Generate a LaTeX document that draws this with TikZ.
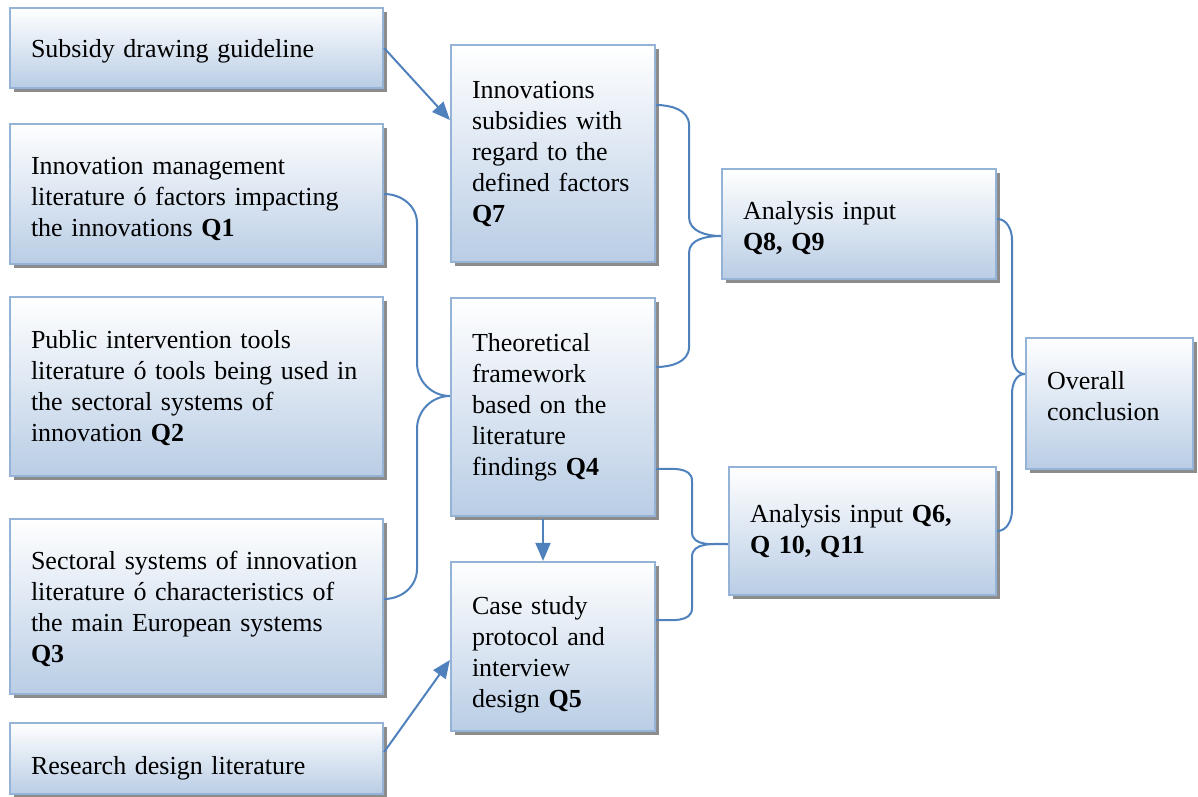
\documentclass[tikz,border=0pt]{standalone}
\usepackage{fontspec}
\setmainfont{Liberation Serif}
\usepackage{tikz}
\usetikzlibrary{arrows.meta, shadows, calc}
\definecolor{boxline}{HTML}{95B3D7}
\definecolor{boxblue}{HTML}{B9CDE5}
\definecolor{linkblue}{HTML}{4F81BD}
\definecolor{shadowgray}{HTML}{8C8C8C}

\tikzset{
  box/.style={rectangle, draw=boxline, line width=2.2pt, top color=white, bottom color=boxblue,
    drop shadow={shadow xshift=4pt, shadow yshift=-4pt, fill=shadowgray, opacity=1},
    align=left, inner xsep=21pt, inner ysep=0pt, font=\fontsize{26}{31}\selectfont},
  link/.style={linkblue, line width=2pt},
  arr/.style={link, -{Triangle[length=18pt, width=15pt]}}
}

\begin{document}
\begin{tikzpicture}[x=1pt, y=-1pt]
    \useasboundingbox (0,0) rectangle (1198,796);
    % left column
    \node[box, text width=331pt, minimum height=80pt] (sub) at (196.5,48) {\rule{0pt}{24pt}Subsidy drawing guideline};
    \node[box, text width=331pt, minimum height=140pt] (innov) at (196.5,194) {\rule{0pt}{28pt}Innovation management\\literature ó factors impacting\\the innovations \textbf{Q1}};
    \node[box, text width=331pt, minimum height=179pt] (pub) at (196.5,386.5) {\rule{0pt}{22pt}Public intervention tools\\literature ó tools being used in\\the sectoral systems of\\innovation \textbf{Q2}};
    \node[box, text width=331pt, minimum height=175pt] (sect) at (196.5,606.5) {\rule{0pt}{24pt}Sectoral systems of innovation\\literature ó characteristics of\\the main European systems\\\textbf{Q3}};
    \node[box, text width=331pt, minimum height=71pt] (res) at (196.5,758.5) {\rule{0pt}{37pt}Research design literature};
    % middle column
    \node[box, text width=162pt, minimum height=217pt] (subs) at (553,153.5) {Innovations\\subsidies with\\regard to the\\defined factors\\\textbf{Q7}};
    \node[box, text width=162pt, minimum height=218pt] (theo) at (553,407) {Theoretical\\framework\\based on the\\literature\\findings \textbf{Q4}};
    \node[box, text width=162pt, minimum height=169pt] (case) at (553,646.5) {\rule{0pt}{34pt}Case study\\protocol and\\interview\\design \textbf{Q5}};
    % right columns
    \node[box, text width=232pt, minimum height=110pt] (anA) at (859,224) {\rule{0pt}{26pt}Analysis input\\\textbf{Q8, Q9}};
    \node[box, text width=225pt, minimum height=128pt] (anB) at (862.5,531) {Analysis input \textbf{Q6,}\\\textbf{Q 10, Q11}};
    \node[box, text width=125pt, minimum height=131pt] (concl) at (1109.5,403.5) {Overall\\conclusion\rule[-16pt]{0pt}{16pt}};

    % arrows
    \draw[arr] (sub.east) -- ($(subs.west)+(0,-33.5)$);
    \draw[arr] ($(res.east)+(0,-6.5)$) -- ($(case.west)+(0,13.5)$);
    \draw[arr] ($(theo.south)+(-10,2)$) -- ($(case.north)+(-10,0)$);

    % braces
    \draw[link] (innov.east) to[out=0, in=90] (417,223) -- (417,363)
        to[out=-90, in=180] ($(theo.west)+(0,-11)$);
    \draw[link] ($(sect.east)+(0,-7.5)$) to[out=0, in=-90] (417,569) -- (417,429)
        to[out=90, in=180] ($(theo.west)+(0,-11)$);
    \draw[link] ($(subs.east)+(0,-48.5)$) to[out=0, in=90] (689,125) -- (689,217)
        to[out=-90, in=180] ($(anA.west)+(0,12)$);
    \draw[link] ($(theo.east)+(0,-40)$) to[out=0, in=-90] (689,347) -- (689,253)
        to[out=90, in=180] ($(anA.west)+(0,12)$);
    \draw[link] ($(theo.east)+(0,62)$) to[out=0, in=90] (692,481) -- (692,532)
        to[out=-90, in=180] ($(anB.west)+(0,13)$);
    \draw[link] ($(case.east)+(0,-26.5)$) to[out=0, in=-90] (692,608) -- (692,557)
        to[out=90, in=180] ($(anB.west)+(0,13)$);
    \draw[link] ($(anA.east)+(0,-5)$) to[out=0, in=90] (1012,240) -- (1012,353)
        to[out=-90, in=180] ($(concl.west)+(0,-29.5)$);
    \draw[link] (anB.east) to[out=0, in=-90] (1012,510) -- (1012,394)
        to[out=90, in=180] ($(concl.west)+(0,-29.5)$);
\end{tikzpicture}
\end{document}
